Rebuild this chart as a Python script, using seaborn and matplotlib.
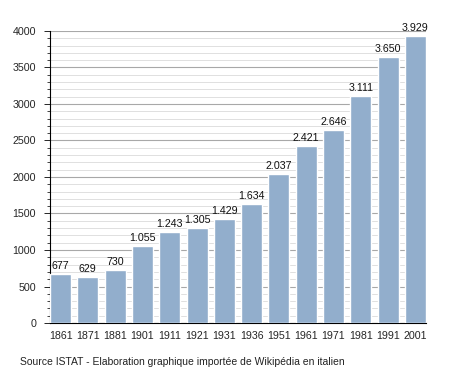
import matplotlib
matplotlib.use('Agg')
import pandas as pd
import seaborn as sns
import matplotlib.pyplot as plt
from matplotlib.ticker import MultipleLocator

# Population data (ISTAT)
years = ['1861', '1871', '1881', '1901', '1911', '1921', '1931', '1936',
         '1951', '1961', '1971', '1981', '1991', '2001']
population = [677, 629, 730, 1055, 1243, 1305, 1429, 1634,
              2037, 2421, 2646, 3111, 3650, 3929]
labels = ['677', '629', '730', '1.055', '1.243', '1.305', '1.429', '1.634',
          '2.037', '2.421', '2.646', '3.111', '3.650', '3.929']

df = pd.DataFrame({'Year': years, 'Population': population})

sns.set_style('white')
plt.rcParams['font.family'] = ['Liberation Sans', 'DejaVu Sans']

fig = plt.figure(figsize=(4.55, 3.73), dpi=100)
ax = fig.add_axes([0.110, 0.134, 0.826, 0.783])

sns.barplot(x='Year', y='Population', data=df, color='#92aecc', saturation=1,
            width=0.77, ax=ax, zorder=3)

# value labels above bars
for i, (v, lab) in enumerate(zip(population, labels)):
    ax.text(i, v + 40, lab, ha='center', va='bottom', fontsize=7.7, color='#111111', zorder=4)

ax.set_xlim(-0.385, len(years) - 1 + 0.385)
ax.set_ylim(0, 4000)
ax.yaxis.set_major_locator(MultipleLocator(500))
ax.yaxis.set_minor_locator(MultipleLocator(100))
ax.grid(which='major', axis='y', color='#a8a8a8', linewidth=0.8, zorder=0)
ax.grid(which='minor', axis='y', color='#dadada', linewidth=0.6, zorder=0)
ax.set_axisbelow(True)

for s in ['top', 'right']:
    ax.spines[s].set_visible(False)
for s in ['left', 'bottom']:
    ax.spines[s].set_color('black')
    ax.spines[s].set_linewidth(0.8)

ax.tick_params(axis='y', which='major', left=True, length=4, width=0.7, labelsize=7.7, pad=6)
ax.tick_params(axis='y', which='minor', left=True, length=2, width=0.6)
ax.tick_params(axis='x', bottom=False, labelsize=7.7, pad=2)
ax.set_xlabel('')
ax.set_ylabel('')

fig.text(0.044, 0.022, 'Source ISTAT - Elaboration graphique importée de Wikipédia en italien',
         fontsize=7.5, color='#222222')

fig.savefig('out.png', dpi=100)
